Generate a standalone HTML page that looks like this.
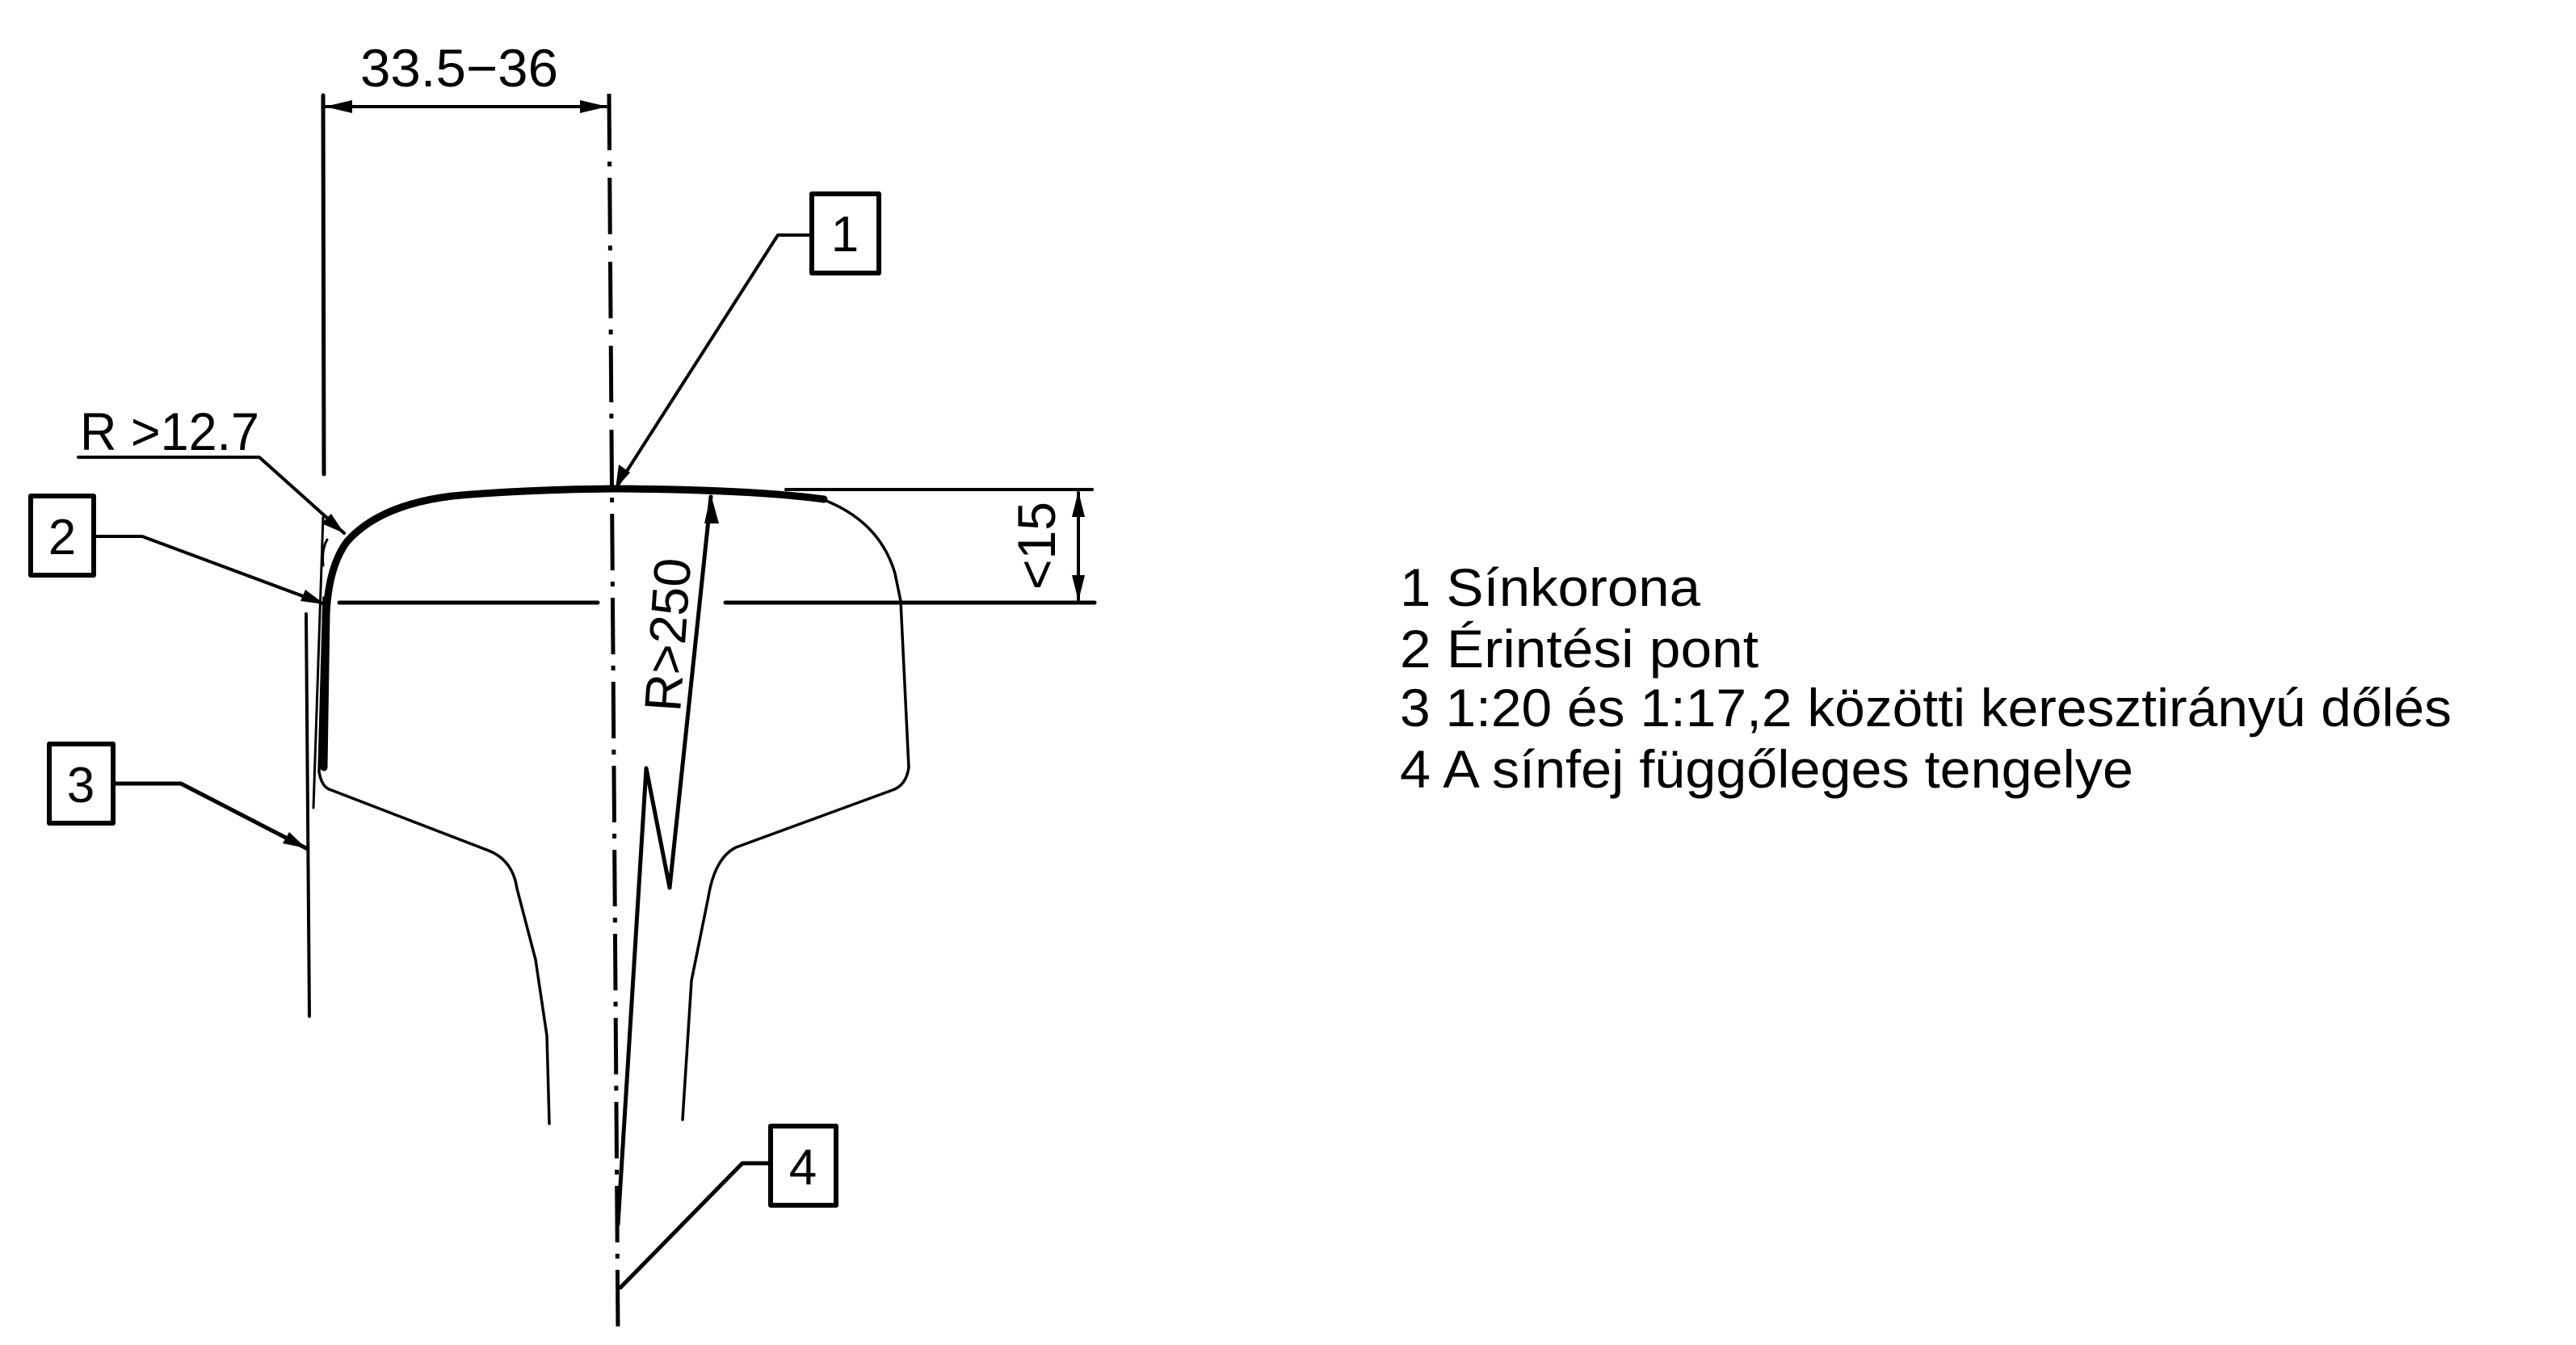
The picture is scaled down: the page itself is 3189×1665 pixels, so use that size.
<!DOCTYPE html>
<html><head><meta charset="utf-8"><style>html,body{margin:0;padding:0;background:#fff}svg{display:block}</style></head>
<body>
<svg width="3189" height="1665" viewBox="0 0 3189 1665" xmlns="http://www.w3.org/2000/svg" font-family="Liberation Sans, sans-serif">
<rect width="3189" height="1665" fill="#fff"/>
<g fill="none" stroke="#000" stroke-linejoin="round" stroke-linecap="round">
<line x1="400" y1="118" x2="401" y2="587" stroke-width="5"/>
<line x1="400" y1="132" x2="754" y2="132" stroke-width="4"/>
<line x1="754" y1="116" x2="765" y2="1650" stroke-width="5" stroke-dasharray="70,14,6,14" stroke-linecap="butt"/>
<line x1="973" y1="606" x2="1352" y2="606" stroke-width="4"/>
<line x1="420" y1="746" x2="740" y2="746" stroke-width="5"/>
<line x1="898" y1="746" x2="1355" y2="746" stroke-width="5"/>
<line x1="1335" y1="610" x2="1335" y2="742" stroke-width="4"/>
<path d="M401,740 L395,955 Q398,975 410,978 L605,1053 Q635,1065 640,1100 L663,1188 L677,1282 L680,1391" stroke-width="3.5"/>
<path d="M1018,618 Q1089,645 1108,710 L1115,744 L1125,950 Q1122,972 1105,978 L911,1049 Q885,1062 877,1110 L856,1214 L845,1386" stroke-width="3.5"/>
<path d="M401,950 L404,760 Q407,700 430,670 Q470,625 560,614 Q650,606 760,605 Q930,606 1020,618" stroke-width="9"/>
<path d="M880,615 L829,1099 L800,951 L765,1516" stroke-width="5"/>
<line x1="379" y1="760" x2="383" y2="1258" stroke-width="4"/>
<line x1="400" y1="640" x2="388" y2="1000" stroke-width="3"/>
<path d="M405,668 Q398,680 400,700" stroke-width="3"/>
<path d="M97,566 L321,566 L426,660" stroke-width="4"/>
<path d="M116,664 L176,664 L402,748" stroke-width="4"/>
<path d="M140,970 L224,970 L379,1050" stroke-width="5"/>
<path d="M1003,291 L963,291 L762,605" stroke-width="4"/>
<path d="M953,1440 L919,1440 L768,1594" stroke-width="5"/>
<rect x="1005" y="240" width="83" height="98" stroke-width="6"/>
<rect x="38" y="614" width="78" height="98" stroke-width="6"/>
<rect x="61" y="921" width="79" height="98" stroke-width="6"/>
<rect x="954" y="1394" width="81" height="98" stroke-width="6"/>
</g>
<g fill="#000">
<polygon points="402,132 436,124 436,140"/>
<polygon points="752,132 718,124 718,140"/>
<polygon points="880,612 872,648 890,648"/>
<polygon points="1335,608 1327,640 1343,640"/>
<polygon points="1335,744 1327,712 1343,712"/>
<polygon points="762,605 766,575 780,585"/>
<polygon points="426,660 398,648 410,636"/>
<polygon points="402,748 372,744 378,730"/>
<polygon points="379,1050 350,1044 358,1030"/>
</g>
<g fill="#000">
<text x="446" y="107" font-size="66" textLength="245" lengthAdjust="spacingAndGlyphs">33.5−36</text>
<text x="99" y="557" font-size="66" textLength="222" lengthAdjust="spacingAndGlyphs">R &gt;12.7</text>
<text transform="translate(1306,730) rotate(-90)" font-size="66" textLength="109" lengthAdjust="spacingAndGlyphs">&lt;15</text>
<text transform="translate(842,882) rotate(-86)" font-size="64" textLength="190" lengthAdjust="spacingAndGlyphs">R&gt;250</text>
<text x="1046" y="311" font-size="62" text-anchor="middle">1</text>
<text x="77" y="686" font-size="62" text-anchor="middle">2</text>
<text x="100" y="993" font-size="62" text-anchor="middle">3</text>
<text x="994" y="1466" font-size="62" text-anchor="middle">4</text>
<g font-size="66">
<text x="1733" y="750" textLength="372" lengthAdjust="spacingAndGlyphs">1  Sínkorona</text>
<text x="1733" y="826" textLength="444" lengthAdjust="spacingAndGlyphs">2  Érintési pont</text>
<text x="1733" y="899" textLength="1302" lengthAdjust="spacingAndGlyphs">3  1:20 és 1:17,2 közötti keresztirányú dőlés</text>
<text x="1733" y="975" textLength="908" lengthAdjust="spacingAndGlyphs">4  A sínfej függőleges tengelye</text>
</g>
</g>
</svg>
</body></html>
